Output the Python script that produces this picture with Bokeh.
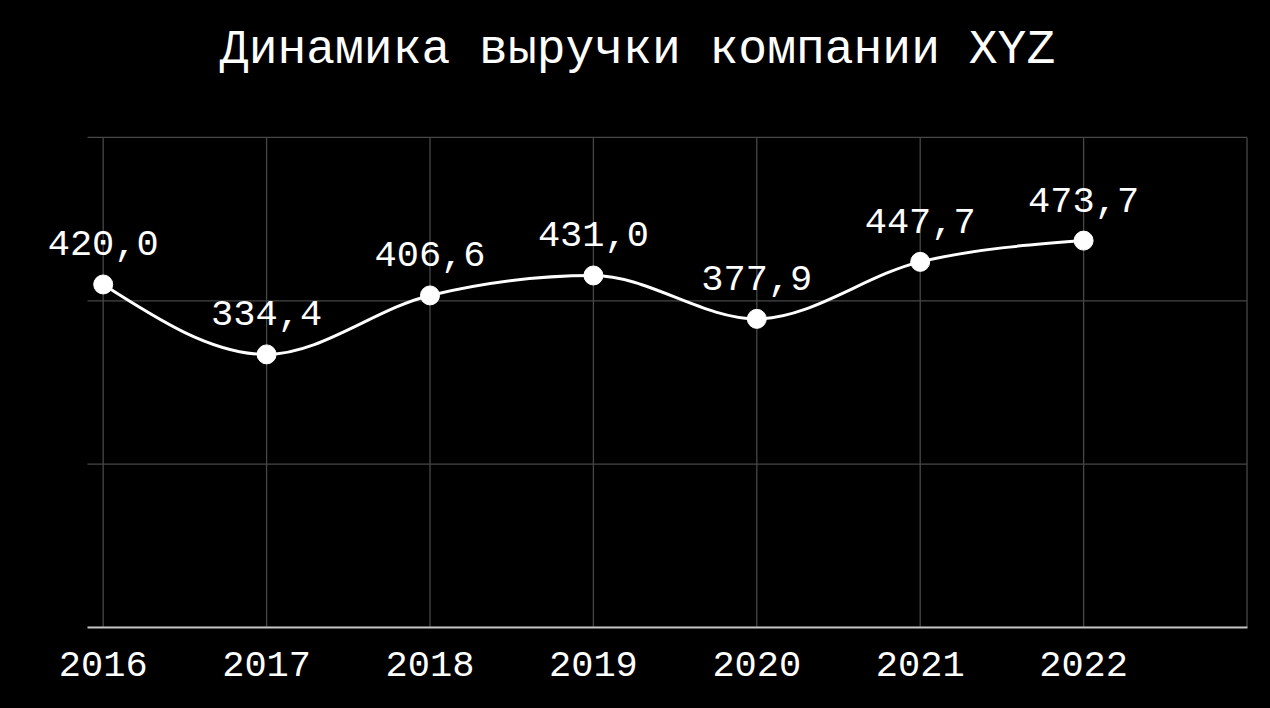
import numpy as np
from bokeh.plotting import figure
from bokeh.models import ColumnDataSource, Label, FixedTicker, Range1d
from bokeh.embed import file_html
from bokeh.resources import INLINE

# ---- data ----
years = [2016, 2017, 2018, 2019, 2020, 2021, 2022]
revenue = [420.0, 334.4, 406.6, 431.0, 377.9, 447.7, 473.7]
labels = ["420,0", "334,4", "406,6", "431,0", "377,9", "447,7", "473,7"]
title_text = "Динамика выручки компании XYZ"
x_grid = [2016, 2017, 2018, 2019, 2020, 2021, 2022, 2023]
y_grid = [0, 200, 400, 600]

FONT = "Liberation Mono"
GRID = "#474747"

# plot box (data units): left edge, right edge, bottom, top
BOX_X0, BOX_X1, BOX_Y0, BOX_Y1 = 2015.904, 2023.0, 0, 600

p = figure(width=1270, height=708, output_backend="svg", toolbar_location=None,
           x_range=Range1d(2015.3715, 2023.1438), y_range=Range1d(0, 767.7),
           min_border_left=0, min_border_right=0, min_border_top=0,
           min_border_bottom=81)
p.background_fill_color = "black"
p.border_fill_color = "black"
p.outline_line_color = None
p.xgrid.visible = False
p.ygrid.visible = False

# axes
p.yaxis.visible = False
p.xaxis.ticker = FixedTicker(ticks=years)
p.xaxis.bounds = (BOX_X0, BOX_X1)
p.xaxis.major_tick_line_color = None
p.xaxis.minor_tick_line_color = None
p.xaxis.axis_line_color = "#c4c4c4"
p.xaxis.axis_line_width = 2
p.xaxis.major_label_text_font = FONT
p.xaxis.major_label_text_font_size = "37px"
p.xaxis.major_label_text_color = "white"
p.xaxis.major_label_standoff = 18

# grid lines limited to the plot box
p.segment(x0=x_grid, y0=[BOX_Y0] * len(x_grid), x1=x_grid, y1=[BOX_Y1] * len(x_grid),
          line_color=GRID, line_width=1.3)
p.segment(x0=[BOX_X0] * len(y_grid), y0=y_grid, x1=[BOX_X1] * len(y_grid), y1=y_grid,
          line_color=GRID, line_width=1.3)

# monotone cubic (d3 curveMonotoneX style) bezier segments for the drawn line
x = np.array(years, dtype=float)
y = np.array(revenue, dtype=float)
h = np.diff(x)
s = np.diff(y) / h
n = len(x)
t_sl = np.zeros(n)
for i in range(1, n - 1):
    s0, s1 = s[i - 1], s[i]
    pp = (s0 * h[i] + s1 * h[i - 1]) / (h[i - 1] + h[i])
    t_sl[i] = (np.sign(s0) + np.sign(s1)) * min(abs(s0), abs(s1), 0.5 * abs(pp))
t_sl[0] = (3 * s[0] - t_sl[1]) / 2
t_sl[-1] = (3 * s[-1] - t_sl[-2]) / 2
bz = ColumnDataSource(dict(
    x0=x[:-1], y0=y[:-1], x1=x[1:], y1=y[1:],
    cx0=x[:-1] + h / 3, cy0=y[:-1] + h * t_sl[:-1] / 3,
    cx1=x[1:] - h / 3, cy1=y[1:] - h * t_sl[1:] / 3,
))
p.bezier(x0="x0", y0="y0", x1="x1", y1="y1", cx0="cx0", cy0="cy0",
         cx1="cx1", cy1="cy1", source=bz, line_color="white", line_width=3)

src = ColumnDataSource(dict(x=years, y=revenue))
p.scatter("x", "y", source=src, size=19, fill_color="white", line_color="white")

for xv, yv, lab in zip(years, revenue, labels):
    p.add_layout(Label(x=xv, y=yv, text=lab, text_align="center",
                       text_baseline="alphabetic", y_offset=41, text_font=FONT,
                       text_font_size="37px", text_color="white"))

# title
p.add_layout(Label(x=2019.27, y=706.5, text=title_text, text_align="center",
                   text_baseline="alphabetic", text_font=FONT,
                   text_font_size="48px", text_color="white"))

html = file_html(p, INLINE)
html = html.replace("<head>", "<head><style>html,body{background:#000;}</style>", 1)
open("out.html", "w").write(html)
